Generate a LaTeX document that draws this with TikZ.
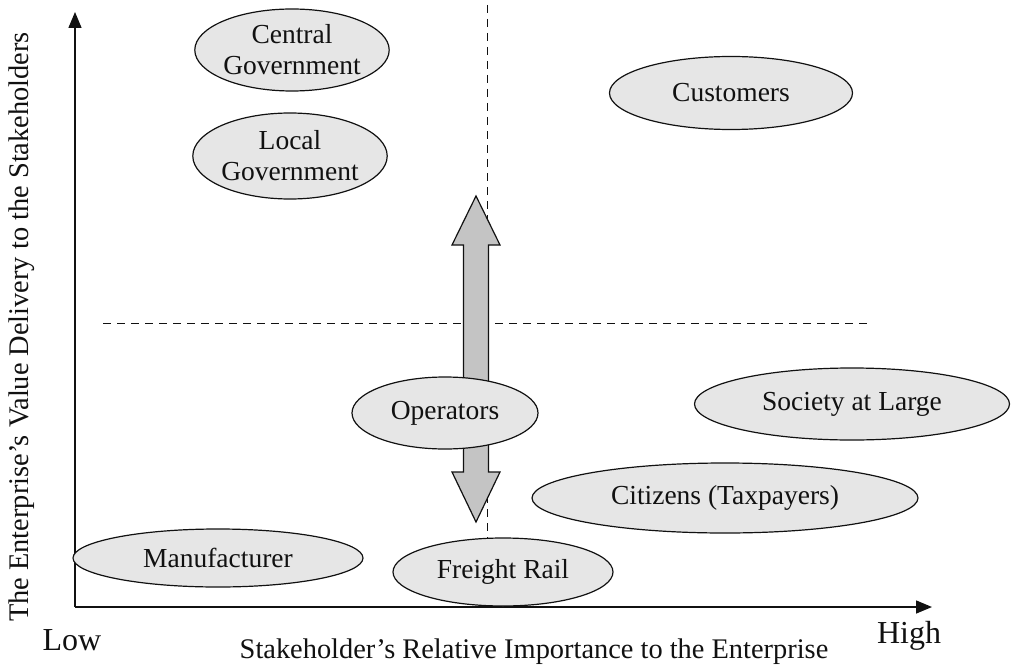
\documentclass[tikz,border=0pt]{standalone}
\usepackage{fontspec}
\setmainfont{Liberation Serif}
\usepackage{xcolor}
\definecolor{EllFill}{HTML}{E6E6E6}
\definecolor{ArrFill}{HTML}{C4C4C4}
\definecolor{InkBlack}{HTML}{111111}
\usepackage{tikz}
\usetikzlibrary{positioning,arrows.meta,shapes.geometric}
\tikzset{
  stk/.style={ellipse,draw=InkBlack,fill=EllFill,line width=1.2pt,inner sep=0pt,
    align=center,font=\fontsize{27.5}{31}\selectfont,text=InkBlack},
  sz/.style 2 args={minimum width=#1pt,minimum height=#2pt},
  axis/.style={-{Triangle[length=16pt,width=13pt]},draw=InkBlack,line width=1.5pt},
  quad/.style={draw=InkBlack,line width=1pt,dash pattern=on 8pt off 6pt},
  ttl/.style={font=\fontsize{28.4}{32}\selectfont,text=InkBlack},
  endl/.style={font=\fontsize{32}{35}\selectfont,text=InkBlack},
}

\begin{document}
\begin{tikzpicture}[x=1pt,y=-1pt]
\useasboundingbox (0,0) rectangle (1011,666);
\coordinate (o) at (75,607);
\coordinate (ytip) at (75,12);
\coordinate (xtip) at (932,607);
\draw[axis] (o) -- (ytip);
\draw[axis] (o) -- (xtip);

\coordinate (vtop) at (487,5);
\coordinate (vbot) at (487,590);
\coordinate (hl) at (103,323);
\coordinate (hr) at (870,323);
\draw[quad] (vtop) -- (vbot);
\draw[quad] (hl) -- (hr);

\draw[fill=ArrFill,draw=InkBlack,line width=1.2pt]
  (476,196) -- (500,245) -- (488.5,245) -- (488.5,472) -- (500,472) -- (476,522)
  -- (452,472) -- (463.5,472) -- (463.5,245) -- (452,245) -- cycle;

\node[stk,sz={185}{82}] (cg) at (292,50)  {Central\\Government};
\node[stk,sz={185}{86}] (lg) at (290,156) {Local\\Government};
\node[stk,sz={243}{73}] (cu) at (731,93)  {Customers};
\node[stk,sz={186}{72}] (op) at (445,413) {Operators};
\node[stk,sz={315}{72}] (sl) at (852,404) {Society at Large};
\node[stk,sz={386}{70}] (ct) at (725,498) {Citizens (Taxpayers)};
\node[stk,sz={290}{58}] (mf) at (218,558) {Manufacturer};
\node[stk,sz={220}{68}] (fr) at (503,572) {Freight Rail};

\node[endl] (lo) at (72,640) {Low};
\node[endl] (hi) at (909,636) {High};
\node[ttl] (xt) at (534,652) {Stakeholder's Relative Importance to the Enterprise};
\node[ttl,rotate=90] (yt) at (22,327) {The Enterprise's Value Delivery to the Stakeholders};
\end{tikzpicture}
\end{document}
